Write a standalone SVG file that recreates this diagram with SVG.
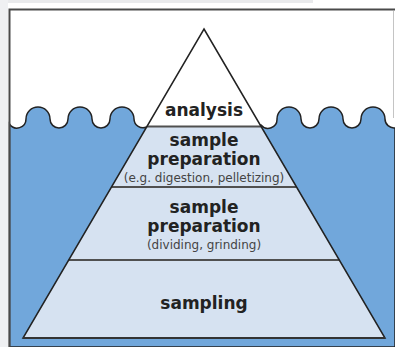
<svg xmlns="http://www.w3.org/2000/svg" width="395" height="347" viewBox="0 0 395 347">
  <style>
    .big { font-family: "DejaVu Sans", Verdana, sans-serif; font-weight: bold; font-size: 17px; fill: #222; text-anchor: middle; }
    .small { font-family: "DejaVu Sans", Verdana, sans-serif; font-size: 12px; fill: #444; text-anchor: middle; }
    .layer { fill: #d6e2f1; stroke: none; }
    .sep { stroke: #505050; stroke-width: 2; fill: none; }
  </style>
  <rect x="0" y="0" width="395" height="347" fill="#ffffff"/>
  <rect x="0" y="0" width="313" height="3" fill="#e9eaec"/>
  <rect x="0" y="0" width="8" height="347" fill="#eff0f2"/>
  <g id="water">
    <path d="M9.5,124 A9,9 0 0 0 26,119 A12,12 0 0 1 50,119 A9,9 0 0 0 68,119 A12,12 0 0 1 92,119 A9,9 0 0 0 110,119 A12,12 0 0 1 134,119 A9,9 0 0 0 146.6,127 L261,125 A9,9 0 0 0 277,119 A12,12 0 0 1 301,119 A9,9 0 0 0 319,119 A12,12 0 0 1 343,119 A9,9 0 0 0 361,119 A12,12 0 0 1 385,119 A9,9 0 0 0 395,127.9 L395,347 L9.5,347 Z" fill="#71a7db" stroke="#222" stroke-width="1.5"/>
  </g>
  <g id="frame">
    <line x1="393.5" y1="11" x2="393.5" y2="118" stroke="#c4c4c4" stroke-width="1"/>
    <path d="M9.5,347 L9.5,9.5 L395,9.5" fill="none" stroke="#4a4a4a" stroke-width="2"/>
  </g>
  <g id="analysis">
    <polygon points="204,29 146.9,126.5 261.1,126.5" fill="#ffffff"/>
    <text class="big" x="204" y="116">analysis</text>
  </g>
  <g id="sample-preparation-1">
    <polygon class="layer" points="146.9,126.5 261.1,126.5 296.6,187 111.4,187"/>
    <text class="big" x="204" y="146">sample</text>
    <text class="big" x="204" y="165">preparation</text>
    <text class="small" x="204" y="182">(e.g. digestion, pelletizing)</text>
  </g>
  <g id="sample-preparation-2">
    <polygon class="layer" points="111.4,187 296.6,187 339.3,260 68.7,260"/>
    <text class="big" x="204" y="213">sample</text>
    <text class="big" x="204" y="232">preparation</text>
    <text class="small" x="204" y="249">(dividing, grinding)</text>
  </g>
  <g id="sampling">
    <polygon class="layer" points="68.7,260 339.3,260 385,338 23,338"/>
    <text class="big" x="204" y="309">sampling</text>
  </g>
  <g id="outline">
    <line class="sep" x1="146.9" y1="126.5" x2="261.1" y2="126.5"/>
    <line class="sep" x1="111.4" y1="187" x2="296.6" y2="187"/>
    <line class="sep" x1="68.7" y1="260" x2="339.3" y2="260"/>
    <polygon points="204,29 385,338 23,338" fill="none" stroke="#222" stroke-width="1.5" stroke-linejoin="miter"/>
    <line x1="23" y1="338" x2="385" y2="338" stroke="#333" stroke-width="2"/>
  </g>
</svg>
